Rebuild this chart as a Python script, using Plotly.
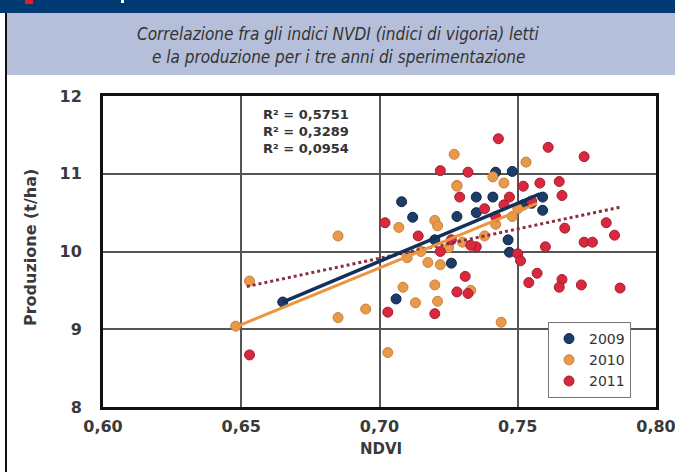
import plotly.graph_objects as go

W, H = 675, 472

# ---- data ----
ndvi_2009 = [0.665, 0.708, 0.712, 0.742, 0.748, 0.735, 0.741, 0.759, 0.759, 0.7465, 0.747, 0.726,
             0.706, 0.728, 0.735, 0.720, 0.752, 0.755]
prod_2009 = [9.35, 10.64, 10.44, 11.02, 11.03, 10.70, 10.70, 10.70, 10.53, 10.15, 9.99, 9.85,
             9.39, 10.45, 10.50, 10.15, 10.60, 10.62]

ndvi_2010 = [0.648, 0.653, 0.685, 0.685, 0.695, 0.703, 0.707, 0.7085, 0.713, 0.720, 0.721, 0.720,
             0.721, 0.7175, 0.722, 0.727, 0.728, 0.728, 0.733, 0.741, 0.745, 0.744, 0.753, 0.710,
             0.715, 0.725, 0.730, 0.738, 0.742, 0.748, 0.750]
prod_2010 = [9.04, 9.62, 10.20, 9.15, 9.26, 8.70, 10.31, 9.54, 9.34, 9.57, 9.36, 10.40,
             10.33, 9.86, 9.83, 11.25, 10.85, 10.84, 9.50, 10.96, 10.88, 9.09, 11.15, 9.92,
             10.00, 10.05, 10.12, 10.20, 10.35, 10.45, 10.55]

ndvi_2011 = [0.653, 0.702, 0.703, 0.714, 0.720, 0.722, 0.732, 0.729, 0.728, 0.732, 0.731, 0.735,
             0.743, 0.747, 0.752, 0.758, 0.761, 0.765, 0.766, 0.767, 0.774, 0.782, 0.785, 0.774,
             0.777, 0.760, 0.750, 0.751, 0.757, 0.754, 0.766, 0.765, 0.773, 0.787, 0.726, 0.722,
             0.738, 0.742, 0.745, 0.755, 0.733]
prod_2011 = [8.67, 10.37, 9.22, 10.20, 9.20, 11.04, 11.02, 10.70, 9.48, 9.46, 9.68, 10.06,
             11.45, 10.70, 10.84, 10.88, 11.34, 10.90, 10.72, 10.30, 11.22, 10.37, 10.21, 10.12,
             10.12, 10.06, 9.97, 9.88, 9.72, 9.60, 9.64, 9.54, 9.57, 9.53, 10.15, 10.00,
             10.55, 10.45, 10.60, 10.65, 10.08]

trend_2009_x = [0.665, 0.758]
trend_2009_y = [9.35, 10.74]
trend_2010_x = [0.648, 0.757]
trend_2010_y = [9.03, 10.62]
trend_2011_x = [0.652, 0.787]
trend_2011_y = [9.55, 10.57]

r2_labels = ["R² = 0,5751", "R² = 0,3289", "R² = 0,0954"]
x_tickvals = [0.60, 0.65, 0.70, 0.75, 0.80]
x_ticktext = ["0,60", "0,65", "0,70", "0,75", "0,80"]
y_tickvals = [8, 9, 10, 11, 12]
y_ticktext = ["8", "9", "10", "11", "12"]
title_lines = ["Correlazione fra gli indici NVDI (indici di vigoria) letti",
               "e la produzione per i tre anni di sperimentazione"]

# ---- styling ----
C09, C10, C11 = "#1c3c6a", "#e89a4a", "#d7283e"
TXT = "#333333"
TICKFONT = dict(family="DejaVu Sans", size=16, color="#3a3a3a")


def px(x):
    return x / W


def py(y):
    return 1 - y / H


fig = go.Figure()

for name, xs, ys, col, ln in [("2009", ndvi_2009, prod_2009, C09, "#0f2645"),
                              ("2010", ndvi_2010, prod_2010, C10, "#c9803a"),
                              ("2011", ndvi_2011, prod_2011, C11, "#a81e2e")]:
    fig.add_trace(go.Scatter(x=xs, y=ys, mode="markers", name=name,
                             marker=dict(size=10, color=col, line=dict(color=ln, width=1))))

fig.add_trace(go.Scatter(x=trend_2011_x, y=trend_2011_y, mode="lines", showlegend=False,
                         line=dict(color="#8a2f3e", width=3, dash="dot")))
fig.add_trace(go.Scatter(x=trend_2009_x, y=trend_2009_y, mode="lines", showlegend=False,
                         line=dict(color="#12305a", width=3.5)))
fig.add_trace(go.Scatter(x=trend_2010_x, y=trend_2010_y, mode="lines", showlegend=False,
                         line=dict(color="#ec9440", width=3)))

x0, x1 = 103, 656
y0, y1 = 96, 407

fig.update_layout(
    width=W, height=H,
    margin=dict(l=0, r=0, t=0, b=0, autoexpand=False),
    paper_bgcolor="white", plot_bgcolor="white",
    xaxis=dict(domain=[px(x0), px(x1)], range=[0.60, 0.80], tickvals=x_tickvals,
               ticktext=["<b>%s</b>" % t for t in x_ticktext], automargin=False,
               ticklabeloverflow="allow",
               showgrid=True, gridcolor="#555555", gridwidth=2, zeroline=False,
               showline=True, linecolor="#111111", linewidth=3, mirror=True,
               ticks="outside", ticklen=3, tickcolor="rgba(0,0,0,0)", tickfont=TICKFONT),
    yaxis=dict(domain=[py(y1), py(y0)], range=[8, 12], tickvals=y_tickvals,
               ticktext=["<b>%s</b>" % t for t in y_ticktext], automargin=False,
               ticklabeloverflow="allow",
               showgrid=True, gridcolor="#555555", gridwidth=2, zeroline=False,
               showline=True, linecolor="#111111", linewidth=3, mirror=True,
               ticks="outside", ticklen=15, tickcolor="rgba(0,0,0,0)", tickfont=TICKFONT),
    showlegend=True,
    legend=dict(x=px(548), y=py(322), xanchor="left", yanchor="top",
                bgcolor="white", bordercolor="#777777", borderwidth=1,
                font=dict(family="DejaVu Sans", size=14, color=TXT),
                itemwidth=30, tracegroupgap=0),
)

shapes = [
    dict(type="rect", xref="paper", yref="paper", x0=0, x1=1, y0=py(13), y1=py(0),
         fillcolor="#003a72", line=dict(width=0), layer="below"),
    dict(type="rect", xref="paper", yref="paper", x0=px(7), x1=1, y0=py(75), y1=py(13),
         fillcolor="#b5bfd9", line=dict(width=0), layer="below"),
    dict(type="rect", xref="paper", yref="paper", x0=px(25), x1=px(33), y0=py(4), y1=py(0),
         fillcolor="#e31e24", line=dict(width=0), layer="above"),
    dict(type="rect", xref="paper", yref="paper", x0=px(121), x1=px(124), y0=py(3), y1=py(0),
         fillcolor="#ffffff", line=dict(width=0), layer="above"),
    dict(type="rect", xref="paper", yref="paper", x0=px(5), x1=px(7), y0=0, y1=py(13),
         fillcolor="#111111", line=dict(width=0), layer="above"),
]
fig.update_layout(shapes=shapes)

ann = []
for i, t in enumerate(title_lines):
    ann.append(dict(text="<i>%s</i>" % t, xref="paper", yref="paper", x=px(338), y=py(34 + 23 * i),
                    xanchor="center", yanchor="middle", showarrow=False,
                    font=dict(family="Liberation Sans Narrow, DejaVu Sans Condensed", size=17,
                              color=TXT)))
for i, t in enumerate(r2_labels):
    ann.append(dict(text="<b>%s</b>" % t, xref="paper", yref="paper", x=px(261), y=py(114 + 17.5 * i),
                    xanchor="left", yanchor="middle", showarrow=False,
                    font=dict(family="DejaVu Sans", size=13, color=TXT)))
ann.append(dict(text="<b>Produzione (t/ha)</b>", xref="paper", yref="paper", x=px(30), y=py(248),
                xanchor="center", yanchor="middle", showarrow=False, textangle=-90,
                font=dict(family="DejaVu Sans", size=16, color="#3a3a3a")))
ann.append(dict(text="<b>NDVI</b>", xref="paper", yref="paper", x=px(381), y=py(449),
                xanchor="center", yanchor="middle", showarrow=False,
                font=dict(family="DejaVu Sans", size=15, color="#3a3a3a")))
fig.update_layout(annotations=ann)

fig.write_html("out.html")
